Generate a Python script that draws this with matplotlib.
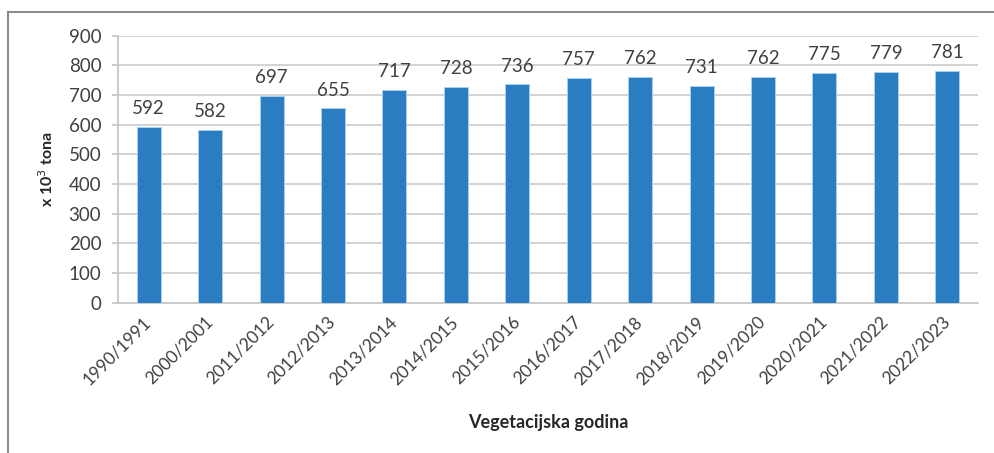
import matplotlib.pyplot as plt
from matplotlib.patches import Rectangle

plt.rcParams['font.family'] = ['Lato', 'DejaVu Sans']

seasons = ['1990/1991', '2000/2001', '2011/2012', '2012/2013', '2013/2014',
           '2014/2015', '2015/2016', '2016/2017', '2017/2018', '2018/2019',
           '2019/2020', '2020/2021', '2021/2022', '2022/2023']
production = [592, 582, 697, 655, 717, 728, 736, 757, 762, 731, 762, 775, 779, 781]

fig = plt.figure(figsize=(9.94, 4.53), dpi=100)
ax = fig.add_axes([0.1187, 0.3318, 0.8652, 0.5894])

# thin grey frame around the chart area
fig.patches.append(Rectangle((8 / 994, -0.1), 1.2, 1 - 12 / 453 + 0.1,
                             transform=fig.transFigure, fill=False,
                             edgecolor='#8c8c8c', linewidth=1.5))

x = range(len(seasons))
bars = ax.bar(x, production, width=0.39, color='#2a7dc0',
              edgecolor='#a9d0ee', linewidth=0.7, zorder=3)

for xi, v in zip(x, production):
    ax.annotate(str(v), (xi, v), xytext=(0, 7), textcoords='offset points',
                ha='center', va='bottom', fontsize=13.5, color='#404040')

ax.set_xlim(-0.5, len(seasons) - 0.5)
ax.set_ylim(0, 900)
ax.set_yticks(range(0, 901, 100))
ax.yaxis.grid(True, color='#cfcfcf', linewidth=1.3, zorder=0)
ax.set_axisbelow(True)

for s in ['top', 'right']:
    ax.spines[s].set_visible(False)
ax.spines['left'].set_color('#c8c8c8')
ax.spines['bottom'].set_color('#c8c8c8')
ax.spines['left'].set_linewidth(1.3)
ax.spines['bottom'].set_linewidth(1.3)

ax.tick_params(axis='y', length=4, color='#c8c8c8', width=1.3,
               labelsize=13.5, labelcolor='#404040', pad=8)
ax.tick_params(axis='x', length=0, labelsize=12.5, labelcolor='#404040', pad=12)
ax.set_xticks(list(x))
ax.set_xticklabels(seasons, rotation=45, ha='right', va='center',
                   rotation_mode='anchor')

ax.set_ylabel('x 10$^3$ tona', fontsize=11.5, fontweight='bold',
              color='#262626', labelpad=9)
ax.set_xlabel('Vegetacijska godina', fontsize=13, fontweight='bold',
              color='#262626', labelpad=19)

fig.savefig('out.png', dpi=100, facecolor='white')
